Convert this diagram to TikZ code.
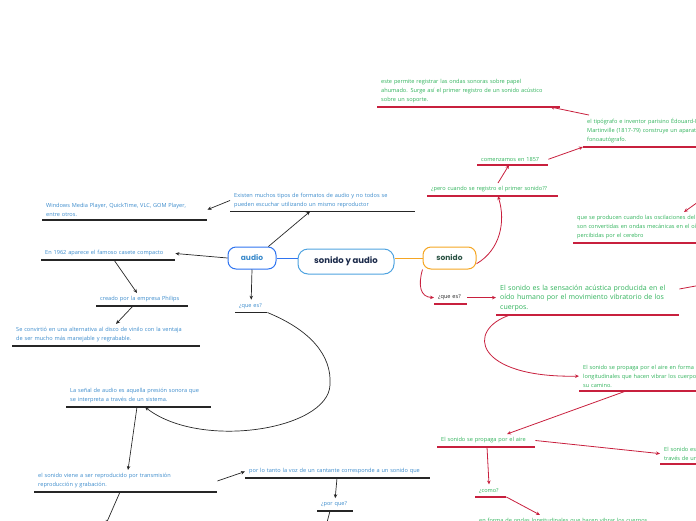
\documentclass[tikz,border=0pt]{standalone}
\usepackage{fontspec}
\setmainfont{Open Sans}
\newfontfamily\topicfont{Poppins}
\usetikzlibrary{arrows.meta}

\definecolor{audiotext}{HTML}{3A8ACB}
\definecolor{audioframe}{HTML}{2F74F0}
\definecolor{mainframe}{HTML}{4FA3E0}
\definecolor{maintext}{HTML}{1B2A4A}
\definecolor{sonidoframe}{HTML}{F5A623}
\definecolor{sonidotext}{HTML}{2C5445}
\definecolor{greentext}{HTML}{2FB25A}
\definecolor{redline}{HTML}{C8203E}
\definecolor{darkline}{HTML}{262626}

\begin{document}
\begin{tikzpicture}[
    x=1pt, y=-1pt,
    topic/.style={rectangle, draw, rounded corners=8pt, fill=white, line width=1pt, minimum height=22pt, inner sep=2pt, font=\topicfont\bfseries\fontsize{7.5}{10}\selectfont},
    note/.style={anchor=south west, inner xsep=4pt, inner ysep=3.5pt, align=left, font=\fontsize{5.6}{9}\selectfont},
    anote/.style={note, text=audiotext, append after command={(\tikzlastnode.south west) edge[draw=darkline, line width=1.4pt] (\tikzlastnode.south east)}},
    snote/.style={note, text=greentext, append after command={(\tikzlastnode.south west) edge[draw=redline, line width=1.4pt] (\tikzlastnode.south east)}},
    alink/.style={-{Stealth[length=4pt, width=3.5pt]}, draw=darkline, line width=0.7pt},
    slink/.style={-{Stealth[length=4pt, width=3.5pt]}, draw=redline, line width=0.8pt}
]

\useasboundingbox (0,0) rectangle (696,520);
\clip (0,0) rectangle (696,520);

\node[topic, draw=mainframe, text=maintext, minimum width=96pt, minimum height=25pt, rounded corners=10pt, font=\topicfont\bfseries\fontsize{8.5}{10}\selectfont] (main) at (346,261.5) {sonido y audio};
\node[topic, draw=audioframe, text=audiotext, minimum width=48pt] (audio) at (252,258) {audio};
\node[topic, draw=sonidoframe, text=sonidotext, minimum width=53pt] (sonido) at (449.5,258) {sonido};

\node[anote, text width=177pt] (fmt) at (230,211.5) {Existen muchos tipos de formatos de audio y no todos se\\pueden escuchar utilizando un mismo reproductor};
\node[anote, text width=157pt] (players) at (42,220) {Windows Media Player, QuickTime, VLC, GOM Player,\\entre otros.};
\node[anote, text width=126pt] (casete) at (41,260) {En 1962 aparece el famoso casete compacto};
\node[anote, text width=84pt] (philips) at (96,306) {creado por la empresa Philips};
\node[anote, text width=180pt] (vinilo) at (12,346) {Se convirtió en una alternativa al disco de vinilo con la ventaja\\de ser mucho más manejable y regrabable.};
\node[anote, text width=24pt] (aques) at (235,312.5) {¿que es?};
\node[anote, text width=137pt] (senal) at (66,407) {La señal de audio es aquella presión sonora que\\se interpreta a través de un sistema.};
\node[anote, text width=175pt] (viene) at (34,492) {el sonido viene a ser reproducido por transmisión\\reproducción y grabación.};
\node[anote, text width=177pt] (voz) at (245,478) {por lo tanto la voz de un cantante corresponde a un sonido que};
\node[anote, text width=28pt] (porque) at (317,511) {¿por que?};

\node[snote, text width=123pt] (pero) at (427,196) {¿pero cuando se registro el primer sonido??};
\node[snote, text width=63pt] (anio) at (477,165) {comenzamos en 1857};
\node[snote, text width=220pt] (scott) at (583,147) {el tipógrafo e inventor parisino Édouard-Léon Scott de\\Martinville (1817-79) construye un aparato llamado\\fonoautógrafo.};
\node[snote, text width=175pt] (papel) at (377,107) {este permite registrar las ondas sonoras sobre papel\\ahumado. Surge así el primer registro de un sonido acústico\\sobre un soporte.};
\node[snote, text width=200pt] (oido) at (573,243) {que se producen cuando las oscilaciones del aire\\son convertidas en ondas mecánicas en el oído\\percibidas por el cerebro};
\node[snote, text=darkline, text width=25pt] (sques) at (434,304) {¿que es?};
\node[snote, text width=175pt, font=\fontsize{7}{9.8}\selectfont] (sensacion) at (496,315) {El sonido es la sensación acústica producida en el\\oído humano por el movimiento vibratorio de los\\cuerpos.};
\node[snote, text width=200pt] (propaga) at (579,391) {El sonido se propaga por el aire en forma de ondas\\longitudinales que hacen vibrar los cuerpos que encuentra en\\su camino.};
\node[snote, text width=90pt] (aire) at (437,447) {El sonido se propaga por el aire};
\node[snote, text width=120pt] (medio) at (660,464) {El sonido es un fenómeno que viaja a\\través de un medio.};
\node[snote, text width=23pt] (como) at (475,497) {¿como?};
\node[snote, text width=210pt] (ondas) at (475,528) {en forma de ondas longitudinales que hacen vibrar los cuerpos};

\coordinate (oidoin) at (712,192);
\coordinate (sensout) at (712,283);
\coordinate (vieneout) at (106,524);
\coordinate (porqueout) at (325,530);

\draw[draw=audioframe, line width=1pt] (audio.east) -- (audio.east -| main.west);
\draw[draw=sonidoframe, line width=1pt] (sonido.west -| main.east) -- (sonido.west);

\draw[alink] (audio.35) -- ([xshift=80pt]fmt.south west);
\draw[alink] (fmt.west) -- (players.east);
\draw[alink] (audio.west) -- (casete.east);
\draw[alink] ([xshift=73pt]casete.south west) -- ([xshift=41pt]philips.north west);
\draw[alink] ([xshift=37pt]philips.south west) -- ([xshift=104pt]vinilo.north west);
\draw[alink] (audio.south) -- (aques.north);
\draw[alink] (aques.south east) .. controls (310,330) and (332,355) .. (330,385) .. controls (328,430) and (200,450) .. ([xshift=79pt]senal.south west);
\draw[alink] ([xshift=71pt]senal.south west) -- ([xshift=94pt]viene.north west);
\draw[alink] (viene.east) -- (voz.west);
\draw[alink] ([xshift=92pt]voz.south west) -- (porque.north);
\draw[alink] ([xshift=13pt]porque.south west) -- (porqueout);
\draw[alink] ([xshift=86pt]viene.south west) -- (vieneout);

\draw[slink] (sonido.-12) .. controls (500,250) and (506,222) .. ([xshift=71pt]pero.south west);
\draw[slink] ([xshift=71pt]pero.north west) -- ([xshift=32pt]anio.south west);
\draw[slink] (anio.east) -- (scott.south west);
\draw[slink] ([xshift=6pt]scott.north west) -- ([xshift=-10pt]papel.south east);
\draw[slink] (oidoin) -- ([xshift=111pt]oido.north west);
\draw[slink] (sonido.south west) .. controls (418,285) and (420,297) .. (sques.west);
\draw[slink] (sques.east) -- (sques.east -| sensacion.west);
\draw[slink] ([yshift=9pt]sensacion.east) -- (sensout);
\draw[slink] ([xshift=14pt]sensacion.south west) .. controls (465,330) and (475,378) .. (propaga.west);
\draw[slink] ([xshift=47pt]propaga.south west) -- ([xshift=70pt]aire.north west);
\draw[slink] (aire.east) -- (medio.west);
\draw[slink] ([xshift=50pt]aire.south west) -- ([xshift=14pt]como.north west);
\draw[slink] (como.south east) -- ([xshift=65pt]ondas.north west);

\end{tikzpicture}
\end{document}
